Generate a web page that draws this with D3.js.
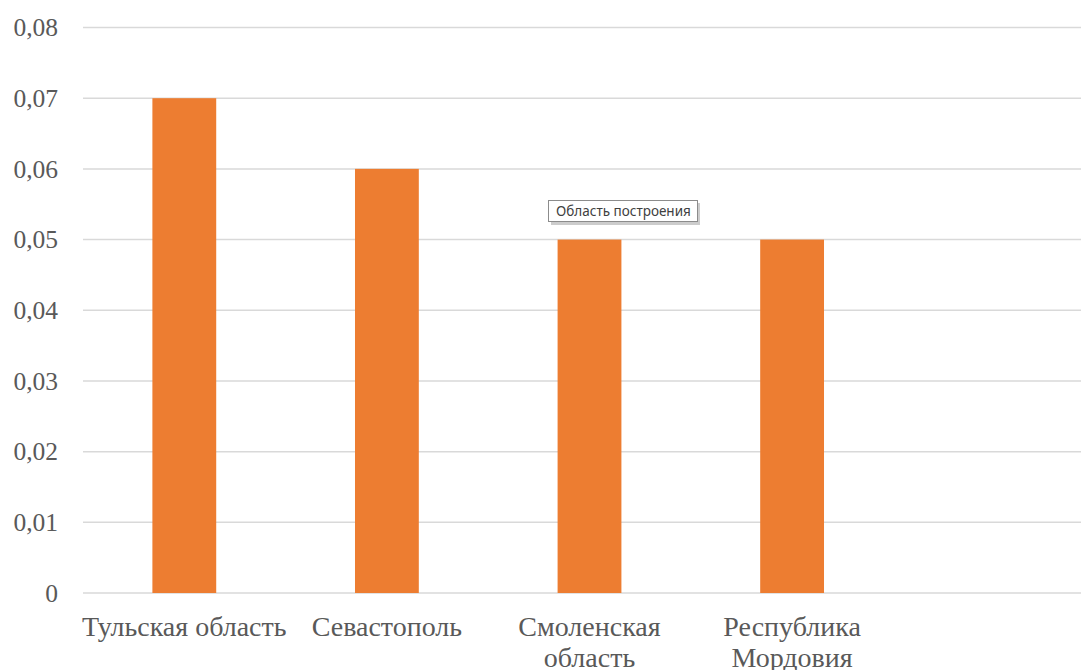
<!DOCTYPE html>
<html><head><meta charset="utf-8">
<script src="https://cdn.jsdelivr.net/npm/d3@7"></script>
<style>body{margin:0;background:#fff;} svg{display:block;} .serif{font-family:'Liberation Serif','DejaVu Serif',serif;}</style>
</head><body>
<svg id="chart" width="1081" height="670"></svg>
<script>
const categories = ["Тульская область", "Севастополь", "Смоленская область", "Республика Мордовия", ""];
const values = [0.07, 0.06, 0.05, 0.05, null];
const yTicks = [0, 0.01, 0.02, 0.03, 0.04, 0.05, 0.06, 0.07, 0.08];
const tooltipText = "Область построения";

(function(){
const svg = d3.select("#chart");
const mLeft = 83, mRight = 1096, mTop = 27.5, mBottom = 593;
const x = d3.scaleBand().domain(categories.map((d,i)=>i)).range([mLeft, mRight]).paddingInner(0.685).paddingOuter(0.3425);
const y = d3.scaleLinear().domain([0, 0.08]).range([mBottom, mTop]);
const fmt = d => d === 0 ? "0" : d3.format(".2f")(d).replace(".", ",");

// gridlines
svg.append("g").selectAll("line").data(yTicks).join("line")
  .attr("x1", mLeft).attr("x2", mRight)
  .attr("y1", d => y(d)).attr("y2", d => y(d))
  .attr("stroke", "#d9d9d9").attr("stroke-width", 1.5);

// y axis labels
const yAxis = d3.axisLeft(y).tickValues(yTicks).tickFormat(fmt).tickSize(0).tickPadding(0);
const gy = svg.append("g").attr("transform", "translate(58,0)").call(yAxis);
gy.attr("font-family", null).attr("font-size", null).attr("class", "serif");
gy.select(".domain").remove();
gy.selectAll("text").style("font-family", "'Liberation Serif','DejaVu Serif',serif")
  .style("font-size", "25.5px").attr("fill", "#595959");

// bars
svg.append("g").selectAll("rect").data(values.map((v,i)=>({v,i})).filter(d=>d.v!=null)).join("rect")
  .attr("x", d => x(d.i)).attr("width", x.bandwidth())
  .attr("y", d => y(d.v)).attr("height", d => y(0) - y(d.v))
  .attr("fill", "#ED7D31");

// x labels with wrapping
const step = x.step();
const lg = svg.append("g").attr("class", "serif").style("font-size", "28px")
  .attr("fill", "#595959").attr("text-anchor", "middle");
categories.forEach((c, i) => {
  if (!c) return;
  const cx = x(i) + x.bandwidth()/2;
  const t = lg.append("text").attr("x", cx).attr("y", 636);
  t.text(c);
  let lines = [c];
  if (t.node().getComputedTextLength() > step + 12) lines = c.split(" ");
  t.text(null);
  lines.forEach((ln, k) => t.append("tspan").attr("x", cx).attr("dy", k === 0 ? 0 : 30.5).text(ln));
});

// tooltip
const tt = svg.append("g").attr("transform", "translate(548,200)");
tt.append("rect").attr("x", 3).attr("y", 3).attr("width", 149).attr("height", 22).attr("fill", "#9a9a9a").attr("opacity", 0.5);
tt.append("rect").attr("x", 0.5).attr("y", 0.5).attr("width", 149).attr("height", 21).attr("fill", "#fff").attr("stroke", "#8c8c8c");
tt.append("text").attr("x", 8).attr("y", 16).style("font-family", "'Noto Sans','Open Sans',sans-serif")
  .style("font-size", "13.5px").attr("fill", "#404040").text(tooltipText);
})();
</script>
</body></html>
